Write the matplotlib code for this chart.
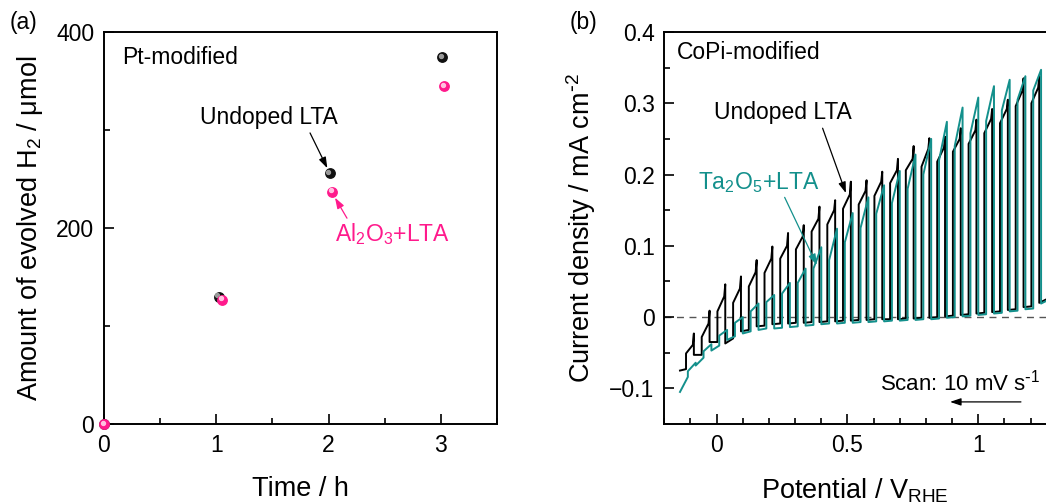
import matplotlib
matplotlib.use("Agg")
import matplotlib.pyplot as plt
import matplotlib.transforms as mtransforms
from matplotlib.ticker import MultipleLocator

plt.rcParams["font.family"] = ["Liberation Sans", "DejaVu Sans"]
plt.rcParams["mathtext.default"] = "regular"

# ---- panel (a): evolved H2 vs time ----
TIME_UNDOPED = [0.0, 1.02, 2.01, 3.01]
H2_UNDOPED = [0, 130, 256, 374]
TIME_AL2O3 = [0.0, 1.05, 2.03, 3.03]
H2_AL2O3 = [0, 127, 237, 345]

# ---- panel (b): chopped-light LSV, scan from positive to negative ----
# Ta2O5+LTA (teal): potentials where light turns on / off
TEAL_E_ON = [1.24, 1.18, 1.12, 1.06, 1.00, 0.94, 0.88, 0.82, 0.76, 0.70, 0.64, 0.58,
             0.52, 0.46, 0.40, 0.34, 0.28, 0.22, 0.16, 0.10, 0.04, -0.02, -0.08]
TEAL_E_OFF = [1.21, 1.15, 1.09, 1.03, 0.97, 0.91, 0.85, 0.79, 0.73, 0.67, 0.61, 0.55,
              0.49, 0.43, 0.37, 0.31, 0.25, 0.19, 0.13, 0.07, 0.01, -0.05, -0.11]
TEAL_PEAK = [0.347, 0.338, 0.333, 0.324, 0.308, 0.294, 0.274, 0.250, 0.228, 0.205, 0.185, 0.168,
             0.146, 0.124, 0.098, 0.068, 0.048, 0.031, 0.019, 0.000, -0.018, -0.038, -0.064]
TEAL_LOW = [0.318, 0.305, 0.290, 0.275, 0.258, 0.240, 0.220, 0.200, 0.180, 0.160, 0.145, 0.125,
            0.105, 0.080, 0.068, 0.048, 0.033, 0.021, 0.008, -0.008, -0.026, -0.048, -0.076]
TEAL_DARK_R = [0.012, 0.009, 0.006, 0.004, 0.002, 0.000, -0.002, -0.003, -0.004, -0.005, -0.006, -0.007,
               -0.008, -0.009, -0.011, -0.013, -0.015, -0.016, -0.020, -0.027, -0.040, -0.057, -0.084]
TEAL_DARK_L = [0.011, 0.008, 0.005, 0.003, 0.001, -0.001, -0.003, -0.004, -0.005, -0.006, -0.007, -0.008,
               -0.009, -0.010, -0.012, -0.014, -0.016, -0.018, -0.023, -0.032, -0.047, -0.068, -0.105]
TEAL_START = (1.30, 0.030, 0.019)  # E start, j start, j just before first light-on
TEAL_END_E = -0.14

# Undoped LTA (black)
BLACK_E_ON = [1.233, 1.173, 1.113, 1.053, 0.993, 0.933, 0.873, 0.813, 0.753, 0.693, 0.633, 0.573,
              0.513, 0.453, 0.393, 0.333, 0.273, 0.213, 0.153, 0.093, 0.033, -0.027, -0.087]
BLACK_E_OFF = [1.203, 1.143, 1.083, 1.023, 0.963, 0.903, 0.843, 0.783, 0.723, 0.663, 0.603, 0.543,
               0.483, 0.423, 0.363, 0.303, 0.243, 0.183, 0.123, 0.063, 0.003, -0.057, -0.117]
BLACK_PEAK = [0.338, 0.335, 0.305, 0.292, 0.277, 0.265, 0.253, 0.251, 0.240, 0.222, 0.204, 0.192,
              0.190, 0.164, 0.155, 0.129, 0.118, 0.099, 0.080, 0.057, 0.046, 0.009, -0.023]
BLACK_PLATEAU = [0.322, 0.318, 0.292, 0.278, 0.262, 0.250, 0.238, 0.236, 0.222, 0.206, 0.190, 0.177,
                 0.172, 0.150, 0.138, 0.113, 0.100, 0.082, 0.063, 0.040, 0.029, -0.009, -0.039]
BLACK_LOW = [0.300, 0.296, 0.272, 0.258, 0.243, 0.232, 0.218, 0.211, 0.206, 0.188, 0.170, 0.158,
             0.152, 0.130, 0.120, 0.095, 0.082, 0.062, 0.043, 0.020, 0.008, -0.028, -0.051]
BLACK_DARK_R = [0.015, 0.011, 0.008, 0.006, 0.004, 0.002, 0.000, -0.001, -0.002, -0.003, -0.003, -0.004,
                -0.005, -0.006, -0.007, -0.008, -0.009, -0.012, -0.018, -0.030, -0.035, -0.053, -0.073]
BLACK_DARK_L = [0.014, 0.010, 0.007, 0.005, 0.003, 0.001, -0.001, -0.002, -0.003, -0.003, -0.004, -0.005,
                -0.006, -0.007, -0.008, -0.009, -0.010, -0.013, -0.020, -0.037, -0.035, -0.053, -0.075]
BLACK_START = (1.30, 0.032, 0.020)
BLACK_END_E = -0.14

TEAL = "#13908c"
PINK = "#ff1a8c"


def chopped_trace(start, e_on, e_off, peak, low, dark_r, dark_l, end_e, plateau=None):
    xs = [start[0], e_on[0]]
    ys = [start[1], start[2]]
    for k in range(len(e_on)):
        xs.append(e_on[k])
        ys.append(peak[k])
        if plateau is not None:
            xs.append(e_on[k] - 0.004)
            ys.append(plateau[k])
        xs += [e_off[k], e_off[k]]
        ys += [low[k], dark_r[k]]
        nxt = e_on[k + 1] if k + 1 < len(e_on) else end_e
        xs.append(nxt)
        ys.append(dark_l[k])
    return xs, ys


def arrow(ax, start, end, color):
    ax.annotate("", xy=end, xytext=start,
                arrowprops=dict(arrowstyle="-|>,head_length=0.65,head_width=0.22", color=color,
                                lw=0.9, shrinkA=0, shrinkB=0))


fig = plt.figure(figsize=(10.46, 5.03), dpi=100)

# ---------------- panel (a) ----------------
ax1 = fig.add_axes([104 / 1046, 1 - 424 / 503, 393 / 1046, 392 / 503])
hl = mtransforms.offset_copy(ax1.transData, fig=fig, x=-1.3, y=1.3, units="dots")
ax1.scatter(TIME_UNDOPED, H2_UNDOPED, s=46, color="#111111", zorder=3, clip_on=False)
ax1.scatter(TIME_UNDOPED, H2_UNDOPED, s=8, color="#9a9a9a", zorder=3, transform=hl, clip_on=False)
ax1.scatter(TIME_AL2O3, H2_AL2O3, s=46, color=PINK, zorder=4, clip_on=False)
ax1.scatter(TIME_AL2O3, H2_AL2O3, s=8, color="#ffc2e0", zorder=4, transform=hl, clip_on=False)

ax1.set_xlim(0, 3.5)
ax1.set_ylim(0, 400)
ax1.xaxis.set_major_locator(MultipleLocator(1))
ax1.xaxis.set_minor_locator(MultipleLocator(0.5))
ax1.yaxis.set_major_locator(MultipleLocator(200))
ax1.yaxis.set_minor_locator(MultipleLocator(100))
ax1.set_xlabel("Time / h", fontsize=19.5, labelpad=14)
ax1.set_ylabel("Amount of evolved H$_2$ / μmol", fontsize=19.5, labelpad=8)

ax1.text(0.16, 374, "Pt-modified", fontsize=16.5, va="center")
ax1.text(1.47, 313, "Undoped LTA", fontsize=16.5, ha="center", va="center")
arrow(ax1, (1.835, 297), (1.989, 261), "black")
ax1.text(2.565, 194, "Al$_2$O$_3$+LTA", fontsize=16.5, ha="center", va="center", color=PINK)
arrow(ax1, (2.164, 210), (2.057, 231), PINK)

# ---------------- panel (b) ----------------
x0_px, x1_px = 716.7, 978.3  # pixel positions of 0 and 1 V
ax2 = fig.add_axes([664.3 / 1046, 1 - 424 / 503, 1 - 664.3 / 1046, 392 / 503])
ax2.set_xlim(-0.2, (1046 - x0_px) / (x1_px - x0_px))
ax2.set_ylim(-0.15, 0.4)
ax2.spines["right"].set_visible(False)
ax2.axhline(0, color="#555555", lw=1.0, ls=(0, (5, 4)), zorder=1)

bx, by = chopped_trace(BLACK_START, BLACK_E_ON, BLACK_E_OFF, BLACK_PEAK, BLACK_LOW,
                       BLACK_DARK_R, BLACK_DARK_L, BLACK_END_E, plateau=BLACK_PLATEAU)
tx, ty = chopped_trace(TEAL_START, TEAL_E_ON, TEAL_E_OFF, TEAL_PEAK, TEAL_LOW,
                       TEAL_DARK_R, TEAL_DARK_L, TEAL_END_E)
ax2.plot(bx, by, color="black", lw=1.4, zorder=2)
ax2.plot(tx, ty, color=TEAL, lw=1.4, zorder=3)

ax2.xaxis.set_minor_locator(MultipleLocator(0.1))
ax2.yaxis.set_minor_locator(MultipleLocator(0.05))
ax2.set_xticks([0, 0.5, 1], ["0", "0.5", "1"])
ax2.set_yticks([-0.1, 0, 0.1, 0.2, 0.3, 0.4], ["\u22120.1", "0", "0.1", "0.2", "0.3", "0.4"])
ax2.set_xlabel("Potential / V$_{RHE}$", fontsize=19.5, labelpad=14)
ax2.set_ylabel(r"Current density / mA cm$^{\text{-}2}$", fontsize=19.5, labelpad=8)

ax2.text(-0.153, 0.371, "CoPi-modified", fontsize=16.5, va="center")
ax2.text(0.252, 0.287, "Undoped LTA", fontsize=16.5, ha="center", va="center")
arrow(ax2, (0.405, 0.265), (0.494, 0.174), "black")
ax2.text(0.159, 0.189, "Ta$_2$O$_5$+LTA", fontsize=16.5, ha="center", va="center", color=TEAL)
arrow(ax2, (0.26, 0.168), (0.383, 0.073), TEAL)
ax2.text(0.93, -0.092, r"Scan: 10 mV s$^{\text{-}1}$", fontsize=16, ha="center", va="center")
arrow(ax2, (1.163, -0.119), (0.892, -0.119), "black")

for ax in (ax1, ax2):
    ax.tick_params(which="both", direction="in", labelsize=16.5, width=1.2, pad=7)
    ax.tick_params(which="major", length=7)
    ax.tick_params(which="minor", length=4)
    ax.tick_params(top=False, right=False)
    for sp in ax.spines.values():
        sp.set_linewidth(1.4)

fig.text(10 / 1046, 1 - 22 / 503, "(a)", fontsize=16.5, va="center")
fig.text(570 / 1046, 1 - 22 / 503, "(b)", fontsize=16.5, va="center")

fig.savefig("out.png", dpi=100)
